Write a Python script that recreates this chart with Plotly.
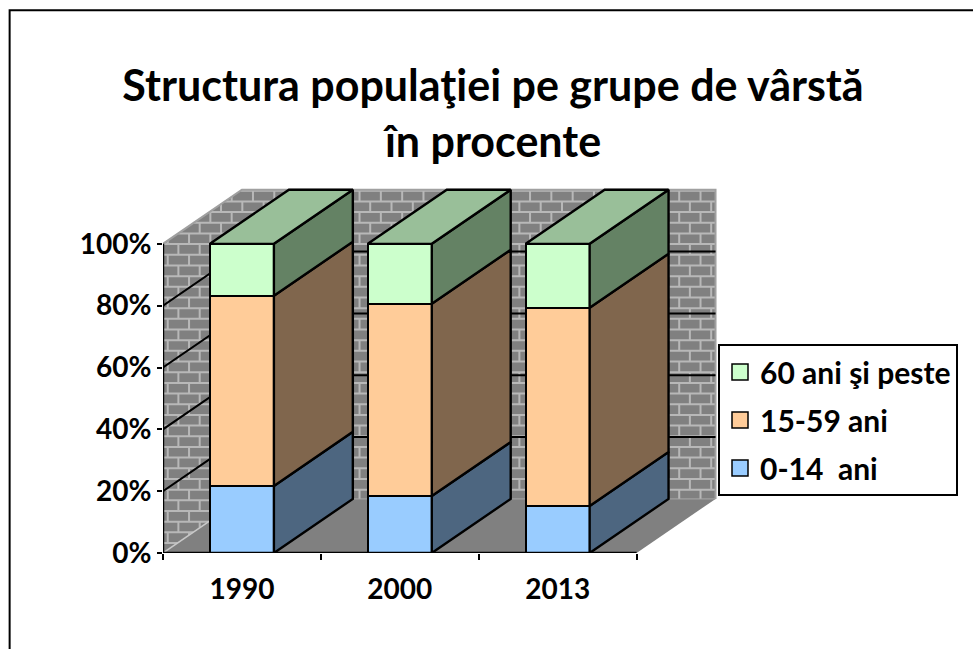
import plotly.graph_objects as go
import numpy as np

categories = ["1990", "2000", "2013"]
series_names = ["0-14  ani", "15-59 ani", "60 ani şi peste"]
v_young = [21.7, 18.4, 15.2]
v_adult = [61.5, 62.2, 64.1]
v_old = [16.8, 19.4, 20.7]
y_ticks = [0, 20, 40, 60, 80, 100]
y_tick_labels = ["0%", "20%", "40%", "60%", "80%", "100%"]

front_colors = ["#99ccff", "#ffcc99", "#ccffcc"]
side_colors = ["#4d6680", "#80664d", "#648264"]
top_color = "#99bf99"

W, H = 973, 649
X0, Y0 = 163.0, 553.0          # pixel position of the chart origin
PX_X, PX_Y = 158.0, 3.09       # pixels per category, per percent
DX, DY = 0.5, 17.5             # depth of the oblique projection, in axis units
X_MAX, Y_MAX = 3.56, 120.0
BAR_W = 0.405
FONT = "Lato"
EDGE = 2.4

cx = np.array([0.5, 1.5, 2.5])
values = np.array([v_young, v_adult, v_old])
tops = values.cumsum(axis=0)
bottoms = tops - values

fig = go.Figure()

# ---------- front faces ----------
for i, name in enumerate(series_names):
    fig.add_bar(x=cx, y=values[i], width=BAR_W, name=name, showlegend=False,
                marker=dict(color=front_colors[i], line=dict(color="black", width=EDGE)))

# ---------- side faces ----------
for i, name in enumerate(series_names):
    xs, ys = [], []
    for c in range(len(categories)):
        xr = cx[c] + BAR_W / 2
        b, t = bottoms[i][c], tops[i][c]
        xs += [xr, xr + DX, xr + DX, xr, xr, None]
        ys += [b, b + DY, t + DY, t, b, None]
    fig.add_scatter(x=xs, y=ys, mode="lines", fill="toself", fillcolor=side_colors[i],
                    line=dict(color="black", width=EDGE), showlegend=False, hoverinfo="skip",
                    cliponaxis=False)

# ---------- top faces ----------
xs, ys = [], []
for c in range(len(categories)):
    xl, xr = cx[c] - BAR_W / 2, cx[c] + BAR_W / 2
    t = tops[2][c]
    xs += [xl, xr, xr + DX, xl + DX, xl, None]
    ys += [t, t, t + DY, t + DY, t, None]
fig.add_scatter(x=xs, y=ys, mode="lines", fill="toself", fillcolor=top_color,
                line=dict(color="black", width=EDGE), showlegend=False, hoverinfo="skip",
                cliponaxis=False)

# ---------- axis lines ----------
fig.add_scatter(x=[0, 0, None, 0, 3], y=[0, 100, None, 0, 0], mode="lines",
                line=dict(color="black", width=EDGE), showlegend=False, hoverinfo="skip",
                cliponaxis=False)

# ---------- legend entries (top to bottom) ----------
for i in [2, 1, 0]:
    fig.add_scatter(x=[None], y=[None], mode="markers", name=series_names[i],
                    legendgroup=series_names[i],
                    marker=dict(symbol="square", size=17, color=front_colors[i],
                                line=dict(color="black", width=1.5)))

# ---------- wall, floor, gridlines, brick mortar ----------
def lower(x):
    return x / DX * DY if x < DX else DY

def upper(x):
    return 100 + x / DX * DY if x < DX else 100 + DY

shapes = []
wall = f"M0,0 L0,100 L{DX},{100+DY} L{3+DX},{100+DY} L{3+DX},{DY} L{DX},{DY} Z"
shapes.append(dict(type="path", path=wall, fillcolor="#808080", line=dict(width=0), layer="below"))

# brick pattern, laid out in screen space across the walls
row_h = 10.67 / PX_Y
brick_w = 21.33 / PX_X
seg = []
n_rows = int((100 + DY) / row_h) + 1
for r in range(n_rows):
    y = 100 + DY - 1.0 / PX_Y - r * row_h
    if y <= 0:
        break
    # horizontal mortar joint
    xa = max(0.0, (y - 100) / DY * DX)
    xb = 3 + DX if y >= DY else y / DY * DX
    if xb > xa:
        seg.append(f"M{xa:.4f},{y:.3f} L{xb:.4f},{y:.3f}")
    # vertical joints, staggered by half a brick
    k = 0
    while True:
        x = (0.5 * brick_w if r % 2 else 0.0) + 0.03 + k * brick_w
        k += 1
        if x >= 3 + DX:
            break
        y1 = min(y, upper(x))
        y2 = max(y - row_h, lower(x))
        if y1 > y2:
            seg.append(f"M{x:.4f},{y1:.3f} L{x:.4f},{y2:.3f}")
shapes.append(dict(type="path", path=" ".join(seg), line=dict(color="#b8b8b8", width=2), layer="below"))

# floor
floor = f"M0,0 L3,0 L{3+DX},{DY} L{DX},{DY} Z"
shapes.append(dict(type="path", path=floor, fillcolor="#808080", line=dict(width=0), layer="below"))

# wall outline
outline = f"M0,100 L{DX},{100+DY} L{3+DX},{100+DY} L{3+DX},{DY}"
shapes.append(dict(type="path", path=outline, line=dict(color="#a0a0a0", width=2), layer="below"))
shapes.append(dict(type="line", x0=0, y0=0, x1=DX, y1=DY, line=dict(color="#c8c8c8", width=1.5), layer="below"))
shapes.append(dict(type="line", x0=DX, y0=DY, x1=3 + DX, y1=DY, line=dict(color="#a8a8a8", width=1), layer="below"))

# gridlines: along the left wall, then across the back wall
for v in y_ticks[1:-1]:
    shapes.append(dict(type="path", path=f"M0,{v} L{DX},{v+DY} L{3+DX},{v+DY}",
                       line=dict(color="black", width=2), layer="below"))

# outer chart frame, in page pixels
shapes.append(dict(type="rect", xref="paper", yref="paper",
                   x0=(9.5 - X0) / (X_MAX * PX_X), x1=(W + 20 - X0) / (X_MAX * PX_X),
                   y0=(Y0 - (H + 20)) / (Y_MAX * PX_Y), y1=(Y0 - 10.5) / (Y_MAX * PX_Y),
                   line=dict(color="black", width=2), fillcolor="rgba(0,0,0,0)", layer="below"))

fig.update_layout(
    width=W, height=H, autosize=False,
    barmode="stack", bargap=0,
    paper_bgcolor="white", plot_bgcolor="white",
    font=dict(family=FONT, color="black"),
    margin=dict(l=X0, t=Y0 - Y_MAX * PX_Y, b=H - Y0, r=W - X0 - X_MAX * PX_X, pad=0, autoexpand=False),
    shapes=shapes,
    title=dict(text="<b>Structura populaţiei pe grupe de vârstă<br>în procente</b>",
               font=dict(family=FONT, size=43, color="black"),
               x=493 / W, xanchor="center", xref="container",
               y=1 - 101 / H, yanchor="middle", yref="container"),
    xaxis=dict(range=[0, X_MAX], tickmode="array", tickvals=list(cx), ticktext=categories,
               ticks="", showgrid=False, zeroline=False, showline=False,
               tickfont=dict(family=FONT, size=28, color="black", weight="bold"),
               ticklabelstandoff=17,
               minor=dict(tickmode="array", tickvals=[0, 1, 2, 3], ticks="outside",
                          ticklen=6, tickwidth=2, tickcolor="black", showgrid=False)),
    yaxis=dict(range=[0, Y_MAX], tickmode="array", tickvals=y_ticks, ticktext=y_tick_labels,
               ticks="outside", ticklen=5, tickwidth=2, tickcolor="black",
               showgrid=False, zeroline=False, showline=False,
               tickfont=dict(family=FONT, size=28, color="black", weight="bold")),
    legend=dict(xref="container", yref="container", x=718 / W, y=1 - 344 / H,
                xanchor="left", yanchor="top",
                bgcolor="white", bordercolor="black", borderwidth=2,
                traceorder="grouped", tracegroupgap=6,
                font=dict(family=FONT, size=30, color="black", weight="bold")),
)

fig.write_html("out.html", post_script="document.body.style.margin='0';",
               config={"displayModeBar": False})
